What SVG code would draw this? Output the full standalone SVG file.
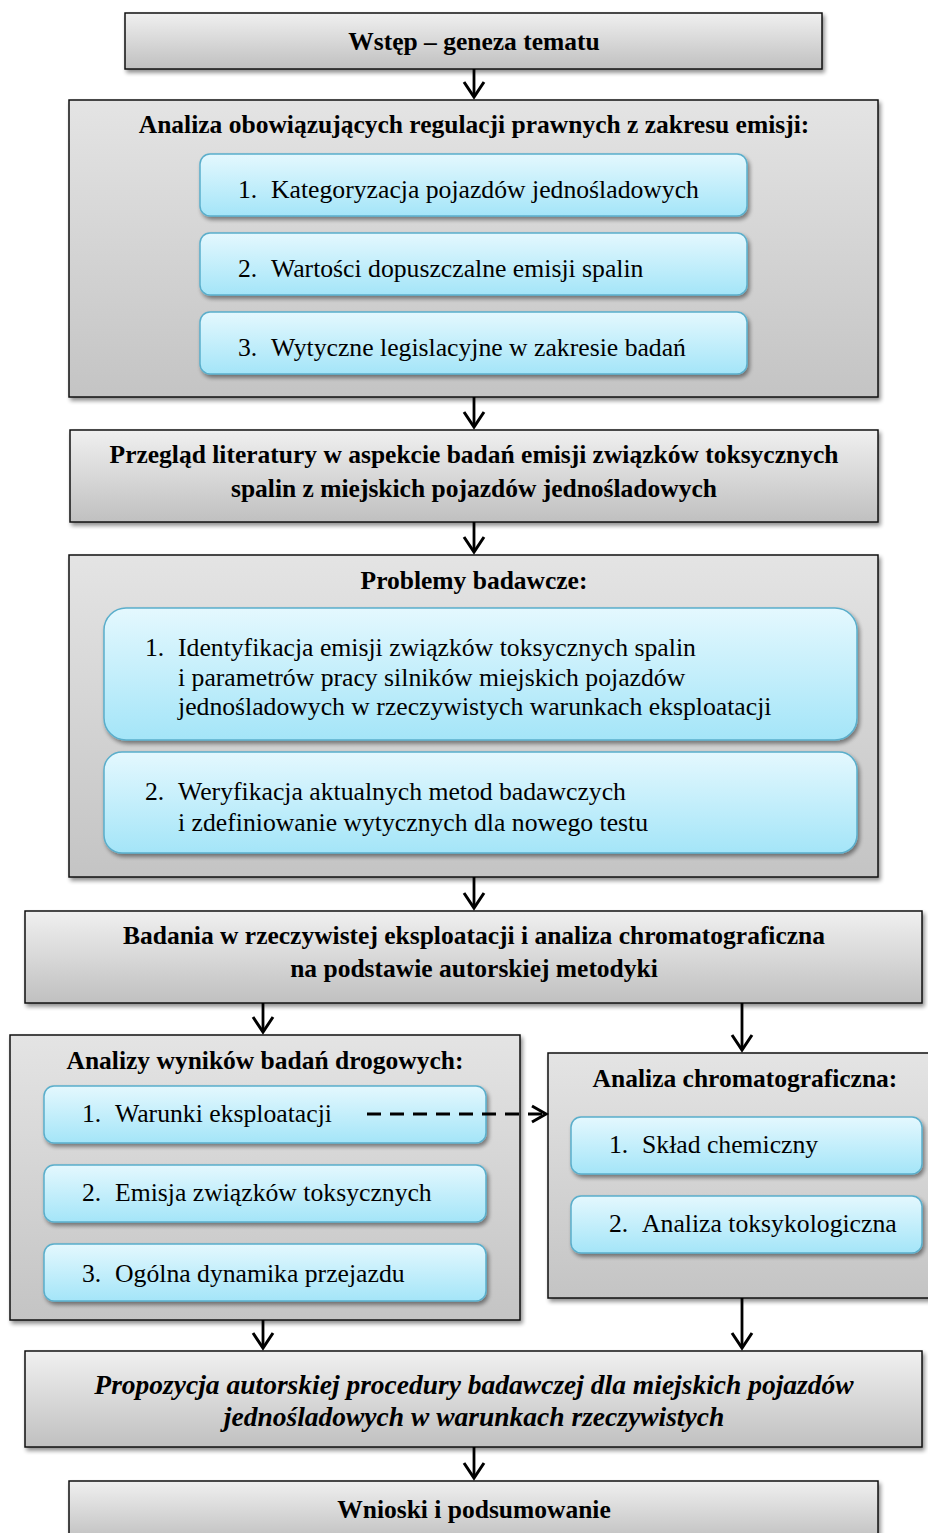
<svg xmlns="http://www.w3.org/2000/svg" width="928" height="1533" viewBox="0 0 928 1533">
<style>
.gbox{fill:url(#gray);stroke:#111;stroke-width:1.5;filter:url(#sh)}
.cbox{fill:url(#cont);stroke:#111;stroke-width:1.5;filter:url(#sh)}
.bbox{fill:url(#blue);stroke:#5aaecb;stroke-width:1.5;filter:url(#sh)}
.t{font-family:"Liberation Serif","Times New Roman",serif;font-size:25.7px;fill:#000}
.b{font-weight:bold;text-anchor:middle;font-size:25.5px}
.bi{font-weight:bold;font-style:italic;text-anchor:middle;font-size:27.5px}
.c line{stroke:#000;stroke-width:2.8}
.c path{fill:none;stroke:#000;stroke-width:3}
</style>
<defs>
<linearGradient id="gray" x1="0" y1="0" x2="0" y2="1">
<stop offset="0" stop-color="#f0f0f0"/><stop offset="1" stop-color="#c0c0c0"/>
</linearGradient>
<linearGradient id="cont" x1="0" y1="0" x2="0" y2="1">
<stop offset="0" stop-color="#e4e4e4"/><stop offset="1" stop-color="#c4c4c4"/>
</linearGradient>
<linearGradient id="blue" x1="0" y1="0" x2="0" y2="1">
<stop offset="0" stop-color="#e4f8fe"/><stop offset="1" stop-color="#a4e5f8"/>
</linearGradient>
<filter id="sh" x="-5%" y="-10%" width="110%" height="130%">
<feGaussianBlur in="SourceAlpha" stdDeviation="2"/>
<feOffset dx="2" dy="3" result="o"/>
<feComponentTransfer><feFuncA type="linear" slope="0.45"/></feComponentTransfer>
<feMerge><feMergeNode/><feMergeNode in="SourceGraphic"/></feMerge>
</filter>
</defs>

<g id="wstep">
<rect class="gbox" x="125" y="13" width="697" height="56"/>
<text class="t b" x="474" y="50">Wstęp – geneza tematu</text>
</g>

<g id="analiza-regulacji">
<rect class="cbox" x="69" y="100" width="809" height="297"/>
<text class="t b" x="474" y="133">Analiza obowiązujących regulacji prawnych z zakresu emisji:</text>
<g id="reg1"><rect class="bbox" x="200" y="154" width="547" height="62" rx="10"/>
<text class="t" y="198"><tspan x="238">1.</tspan><tspan x="271">Kategoryzacja pojazdów jednośladowych</tspan></text></g>
<g id="reg2"><rect class="bbox" x="200" y="233" width="547" height="62" rx="10"/>
<text class="t" y="277"><tspan x="238">2.</tspan><tspan x="271">Wartości dopuszczalne emisji spalin</tspan></text></g>
<g id="reg3"><rect class="bbox" x="200" y="312" width="547" height="62" rx="10"/>
<text class="t" y="356"><tspan x="238">3.</tspan><tspan x="271">Wytyczne legislacyjne w zakresie badań</tspan></text></g>
</g>

<g id="przeglad">
<rect class="gbox" x="70" y="430" width="808" height="92"/>
<text class="t b" x="474" y="463">Przegląd literatury w aspekcie badań emisji związków toksycznych</text>
<text class="t b" x="474" y="497">spalin z miejskich pojazdów jednośladowych</text>
</g>

<g id="problemy">
<rect class="cbox" x="69" y="555" width="809" height="322"/>
<text class="t b" x="474" y="589">Problemy badawcze:</text>
<g id="prob1"><rect class="bbox" x="104" y="608" width="753" height="132" rx="22"/>
<text class="t" y="656"><tspan x="145">1.</tspan><tspan x="178">Identyfikacja emisji związków toksycznych spalin</tspan></text>
<text class="t" x="178" y="686">i parametrów pracy silników miejskich pojazdów</text>
<text class="t" x="178" y="715">jednośladowych w rzeczywistych warunkach eksploatacji</text></g>
<g id="prob2"><rect class="bbox" x="104" y="752" width="753" height="101" rx="18"/>
<text class="t" y="800"><tspan x="145">2.</tspan><tspan x="178">Weryfikacja aktualnych metod badawczych</tspan></text>
<text class="t" x="178" y="831">i zdefiniowanie wytycznych dla nowego testu</text></g>
</g>

<g id="badania">
<rect class="gbox" x="25" y="911" width="897" height="92"/>
<text class="t b" x="474" y="944">Badania w rzeczywistej eksploatacji i analiza chromatograficzna</text>
<text class="t b" x="474" y="977">na podstawie autorskiej metodyki</text>
</g>

<g id="analizy-drogowe">
<rect class="cbox" x="10" y="1035" width="510" height="285"/>
<text class="t b" x="265" y="1069">Analizy wyników badań drogowych:</text>
<g id="dr1"><rect class="bbox" x="44" y="1086" width="442" height="57" rx="10"/>
<text class="t" y="1122"><tspan x="82">1.</tspan><tspan x="115">Warunki eksploatacji</tspan></text></g>
<g id="dr2"><rect class="bbox" x="44" y="1165" width="442" height="57" rx="10"/>
<text class="t" y="1201"><tspan x="82">2.</tspan><tspan x="115">Emisja związków toksycznych</tspan></text></g>
<g id="dr3"><rect class="bbox" x="44" y="1244" width="442" height="57" rx="10"/>
<text class="t" y="1282"><tspan x="82">3.</tspan><tspan x="115">Ogólna dynamika przejazdu</tspan></text></g>
</g>

<g id="analiza-chrom">
<rect class="cbox" x="548" y="1053" width="386" height="245"/>
<text class="t b" x="745" y="1087">Analiza chromatograficzna:</text>
<g id="ch1"><rect class="bbox" x="571" y="1117" width="351" height="57" rx="10"/>
<text class="t" y="1153"><tspan x="609">1.</tspan><tspan x="642">Skład chemiczny</tspan></text></g>
<g id="ch2"><rect class="bbox" x="571" y="1196" width="351" height="57" rx="10"/>
<text class="t" y="1232"><tspan x="609">2.</tspan><tspan x="642">Analiza toksykologiczna</tspan></text></g>
</g>

<g id="propozycja">
<rect class="gbox" x="25" y="1351" width="897" height="96"/>
<text class="t bi" x="474" y="1394">Propozycja autorskiej procedury badawczej dla miejskich pojazdów</text>
<text class="t bi" x="474" y="1426">jednośladowych w warunkach rzeczywistych</text>
</g>

<g id="wnioski">
<rect class="gbox" x="69" y="1481" width="809" height="60"/>
<text class="t b" x="474" y="1518">Wnioski i podsumowanie</text>
</g>

<g id="connectors" class="c">
<line x1="474" y1="69" x2="474" y2="96"/><path d="M464,82 L474,97 L484,82"/>
<line x1="474" y1="397" x2="474" y2="426"/><path d="M464,412 L474,427 L484,412"/>
<line x1="474" y1="522" x2="474" y2="551"/><path d="M464,537 L474,552 L484,537"/>
<line x1="474" y1="877" x2="474" y2="907"/><path d="M464,893 L474,908 L484,893"/>
<line x1="263" y1="1003" x2="263" y2="1031"/><path d="M253,1017 L263,1032 L273,1017"/>
<line x1="742" y1="1003" x2="742" y2="1049"/><path d="M732,1035 L742,1050 L752,1035"/>
<line x1="367" y1="1114" x2="544" y2="1114" stroke-dasharray="14,9"/><path d="M532,1106 L546,1114 L532,1122"/>
<line x1="263" y1="1320" x2="263" y2="1347"/><path d="M253,1333 L263,1348 L273,1333"/>
<line x1="742" y1="1298" x2="742" y2="1347"/><path d="M732,1333 L742,1348 L752,1333"/>
<line x1="474" y1="1447" x2="474" y2="1477"/><path d="M464,1463 L474,1478 L484,1463"/>
</g>
</svg>
